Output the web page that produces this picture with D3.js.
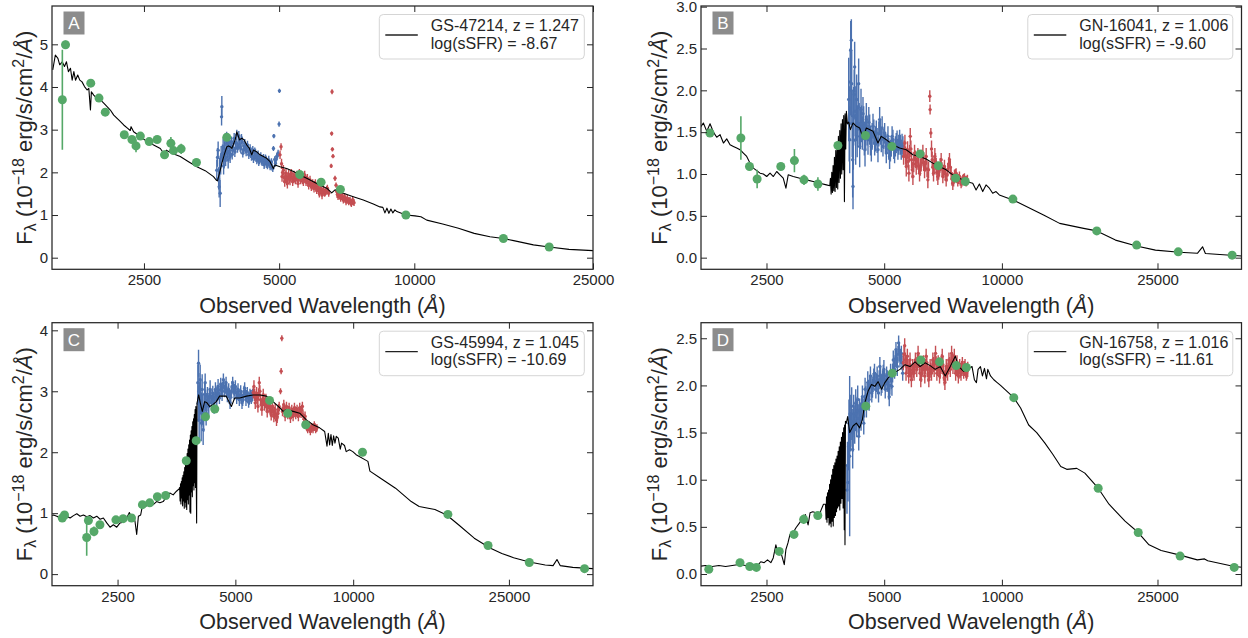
<!DOCTYPE html>
<html><head><meta charset="utf-8">
<script src="https://cdn.jsdelivr.net/npm/d3@7"></script>
<style>
body{margin:0;background:#fff}
svg{display:block}
text{font-family:"Liberation Sans",Arial,sans-serif;fill:#262626}
</style></head>
<body><svg id="chart" width="1248" height="638"></svg>
<script>
// ---------------- DATA ----------------
const xTickValues = [2500, 5000, 10000, 25000];
const yTicksA = [0, 1, 2, 3, 4, 5];
const yTicksB = [0.0, 0.5, 1.0, 1.5, 2.0, 2.5, 3.0];
const yTicksC = [0, 1, 2, 3, 4];
const yTicksD = [0.0, 0.5, 1.0, 1.5, 2.0, 2.5];
const panelLetters = ["A", "B", "C", "D"];
const galaxyNames = ["GS-47214, z = 1.247", "GN-16041, z = 1.006", "GS-45994, z = 1.045", "GN-16758, z = 1.016"];
const ssfrLabels = ["log(sSFR) = -8.67", "log(sSFR) = -9.60", "log(sSFR) = -10.69", "log(sSFR) = -11.61"];

// best-fit model spectra [wavelength, flux]
const modelA = [[1566,4.40],[1587,4.75],[1608,4.67],[1623,4.52],[1644,4.59],[1663,4.48],[1680,4.59],[1697,4.36],[1715,4.44],[1730,4.16],[1745,4.36],[1760,4.16],[1780,4.28],[1799,4.16],[1820,4.12],[1843,4.01],[1868,3.93],[1884,3.97],[1900,3.46],[1909,3.89],[1932,3.81],[1966,3.73],[2000,3.70],[2034,3.62],[2069,3.54],[2104,3.46],[2141,3.34],[2196,3.23],[2253,3.11],[2300,3.03],[2330,2.98],[2340,3.07],[2371,2.95],[2453,2.84],[2539,2.72],[2627,2.64],[2718,2.56],[2774,2.43],[2803,2.52],[2885,2.45],[3011,2.37],[3142,2.25],[3279,2.13],[3422,2.04],[3571,1.90],[3620,1.82],[3645,1.80],[3683,1.98],[3727,2.21],[3772,2.41],[3824,2.60],[3855,2.62],[3890,2.60],[3923,2.56],[3990,2.76],[4025,2.95],[4081,2.76],[4130,2.80],[4178,2.76],[4235,2.64],[4293,2.56],[4345,2.41],[4383,2.52],[4457,2.48],[4534,2.41],[4612,2.37],[4691,2.33],[4772,2.25],[4854,2.09],[4894,2.17],[5023,2.13],[5198,2.09],[5380,2.02],[5567,1.94],[5760,1.86],[5960,1.78],[6166,1.70],[6382,1.63],[6547,1.52],[6659,1.59],[6950,1.51],[7315,1.43],[7698,1.35],[8104,1.26],[8386,1.19],[8510,1.18],[8600,1.05],[8690,1.16],[8778,1.04],[8868,1.14],[8959,1.05],[9053,1.12],[9145,1.08],[9578,1.00],[10035,0.98],[10345,0.96],[10660,0.88],[11566,0.79],[12540,0.69],[13595,0.57],[14740,0.49],[15790,0.45],[16643,0.40],[18420,0.30],[19970,0.25],[22100,0.195],[25000,0.165]];
const modelB = [[1691,1.55],[1724,1.61],[1759,1.51],[1793,1.60],[1829,1.50],[1865,1.44],[1902,1.47],[1940,1.37],[1978,1.42],[2017,1.35],[2057,1.33],[2098,1.31],[2140,1.29],[2182,1.25],[2225,1.21],[2269,1.13],[2314,1.07],[2360,1.04],[2407,1.01],[2454,1.00],[2503,0.97],[2553,1.01],[2603,0.97],[2655,1.03],[2707,0.99],[2759,0.95],[2803,0.83],[2841,0.99],[2926,0.97],[3043,0.95],[3164,0.93],[3291,0.91],[3422,0.89],[3559,0.87],[3629,0.86],[3643,0.95],[3658,0.76],[3672,1.02],[3686,0.78],[3701,1.10],[3715,0.80],[3730,1.20],[3744,0.79],[3759,1.28],[3774,0.84],[3789,1.35],[3803,0.82],[3818,1.45],[3833,0.90],[3849,1.52],[3864,0.95],[3879,1.60],[3894,1.00],[3910,1.65],[3925,1.05],[3940,1.70],[3956,0.67],[3971,1.72],[3987,1.30],[4002,1.75],[4026,1.60],[4057,1.62],[4097,1.53],[4161,1.61],[4244,1.57],[4328,1.55],[4414,1.43],[4501,1.55],[4681,1.51],[4820,1.37],[4915,1.45],[5062,1.41],[5264,1.35],[5475,1.31],[5694,1.29],[5921,1.23],[6157,1.21],[6403,1.18],[6658,1.13],[6925,1.09],[7202,1.05],[7489,0.99],[7788,0.95],[8099,0.91],[8423,0.89],[8589,0.81],[8759,0.88],[8932,0.79],[9109,0.87],[9289,0.83],[9472,0.77],[9660,0.79],[9850,0.75],[10668,0.69],[12780,0.51],[14050,0.41],[16180,0.35],[17483,0.32],[19520,0.21],[22100,0.14],[24700,0.09],[28440,0.064],[31620,0.052],[32600,0.13],[33150,0.05],[41000,0.02]];
const modelC = [[1700,0.96],[1715,0.97],[1749,0.95],[1783,0.92],[1819,0.97],[1855,0.95],[1891,0.92],[1929,0.96],[1967,0.99],[2006,0.95],[2045,0.97],[2086,0.94],[2127,0.96],[2169,0.92],[2212,0.95],[2256,0.90],[2300,0.92],[2346,0.84],[2392,0.77],[2439,0.81],[2488,0.77],[2537,0.84],[2587,0.85],[2638,0.92],[2680,1.01],[2717,0.92],[2744,0.97],[2771,0.86],[2798,0.65],[2826,0.95],[2864,0.97],[2898,1.14],[2966,1.12],[3024,1.17],[3084,1.14],[3145,1.19],[3207,1.17],[3270,1.19],[3335,1.27],[3401,1.33],[3468,1.30],[3536,1.36],[3591,1.40],[3603,1.42],[3612,1.20],[3621,1.48],[3630,1.15],[3639,1.52],[3648,1.25],[3657,1.58],[3666,1.12],[3675,1.62],[3684,1.20],[3693,1.68],[3702,1.08],[3711,1.75],[3720,1.18],[3729,1.82],[3738,1.10],[3747,1.90],[3756,1.06],[3765,1.98],[3774,1.22],[3783,2.05],[3792,1.15],[3801,2.12],[3810,1.30],[3819,2.20],[3828,1.02],[3837,2.28],[3846,1.00],[3855,2.35],[3864,1.35],[3873,2.42],[3882,1.27],[3891,2.50],[3900,1.45],[3909,2.55],[3918,1.38],[3927,2.62],[3936,1.50],[3945,2.70],[3954,1.42],[3963,2.75],[3972,1.60],[3981,0.84],[3990,2.80],[4005,2.86],[4029,2.94],[4068,2.81],[4116,2.67],[4173,2.83],[4230,2.81],[4297,2.75],[4382,2.78],[4469,2.83],[4557,2.92],[4739,2.92],[4884,2.75],[4981,2.89],[5133,2.89],[5338,2.92],[5551,2.94],[5773,2.94],[6003,2.92],[6243,2.83],[6492,2.73],[6620,2.67],[6751,2.70],[7021,2.67],[7301,2.64],[7593,2.53],[7896,2.45],[8211,2.40],[8456,2.34],[8572,2.10],[8639,2.31],[8707,2.12],[8775,2.29],[8844,2.11],[8913,2.27],[8983,2.15],[9053,2.26],[9160,2.23],[9268,2.05],[9340,2.15],[9503,2.11],[9597,2.01],[9785,2.04],[9978,2.01],[10175,1.96],[10905,1.85],[11035,1.69],[11695,1.58],[12828,1.41],[14073,1.19],[14742,1.11],[16178,1.06],[17338,0.97],[18585,0.81],[20388,0.59],[22368,0.43],[23978,0.34],[25700,0.27],[28190,0.20],[30950,0.15],[32420,0.14],[33170,0.24],[33800,0.14],[36400,0.11],[40870,0.09],[41200,0.09]];
const modelD = [[1678,0.08],[1745,0.09],[1816,0.08],[1889,0.09],[1965,0.08],[2044,0.09],[2126,0.10],[2212,0.09],[2301,0.10],[2370,0.09],[2417,0.13],[2466,0.12],[2515,0.15],[2565,0.12],[2601,0.17],[2642,0.31],[2674,0.22],[2705,0.26],[2738,0.19],[2776,0.10],[2803,0.26],[2837,0.33],[2871,0.42],[2916,0.43],[2974,0.49],[3034,0.54],[3094,0.59],[3144,0.63],[3194,0.52],[3232,0.65],[3283,0.66],[3349,0.65],[3402,0.61],[3449,0.68],[3497,0.74],[3539,0.74],[3550,0.58],[3560,0.82],[3570,0.55],[3581,0.86],[3592,0.60],[3603,0.89],[3614,0.52],[3625,0.95],[3636,0.54],[3647,1.00],[3658,0.50],[3670,1.05],[3681,0.56],[3693,1.11],[3704,0.51],[3716,1.15],[3728,0.60],[3740,1.18],[3752,0.62],[3764,1.22],[3776,0.66],[3788,1.25],[3800,0.70],[3812,1.30],[3825,0.72],[3837,1.35],[3850,0.68],[3862,1.40],[3875,0.75],[3888,1.45],[3900,0.80],[3913,1.50],[3926,0.70],[3939,1.55],[3952,0.47],[3960,1.58],[3969,0.31],[3980,1.62],[4000,1.60],[4032,1.67],[4080,1.50],[4161,1.57],[4244,1.60],[4329,1.55],[4398,1.64],[4459,1.81],[4548,1.94],[4639,2.01],[4731,1.99],[4826,2.04],[4922,1.96],[5020,2.03],[5120,2.08],[5274,2.13],[5487,2.17],[5651,2.22],[5821,2.20],[5996,2.25],[6177,2.20],[6362,2.24],[6553,2.21],[6751,2.17],[6954,2.20],[7163,2.10],[7378,2.20],[7600,2.31],[7751,2.20],[7984,2.15],[8224,2.18],[8388,2.20],[8505,2.06],[8606,2.03],[8692,2.17],[8813,2.20],[8918,2.10],[9024,2.18],[9132,2.07],[9204,2.17],[9351,2.10],[9537,2.06],[9728,2.03],[9921,2.00],[10160,1.96],[10725,1.87],[11165,1.76],[11707,1.58],[12276,1.50],[12870,1.39],[13492,1.27],[14142,1.14],[14652,1.11],[15542,1.12],[16300,1.07],[17630,0.91],[18790,0.74],[20650,0.56],[22320,0.44],[23780,0.31],[25540,0.25],[28560,0.20],[31600,0.15],[32980,0.16],[33600,0.14],[39280,0.08],[41500,0.07]];

// blue grism spectra [wavelength, flux, error]
const blueA = [[3632,2.05,.25],[3645,2.35,.22],[3657,2.52,.2],[3667,1.85,.25],[3676,1.66,.25],[3686,2.10,.25],[3695,1.51,.32],[3705,2.20,.25],[3714,2.37,.25],[3722,3.30,.2],[3727,3.54,.25],[3740,2.45,.2],[3752,2.60,.2],[3761,2.15,.2],[3771,2.29,.2],[3781,2.55,.18],[3791,2.76,.15],[3800,2.35,.2],[3810,2.45,.2],[3820,2.80,.15],[3830,2.68,.15],[3840,2.50,.18],[3850,2.29,.2],[3860,2.70,.15],[3869,2.60,.15],[3879,2.45,.15],[3889,2.37,.15],[3902,2.62,.13],[3916,2.72,.12],[3930,2.42,.12],[3943,2.52,.12],[3956,2.68,.12],[3970,2.80,.12],[3984,2.48,.12],[3997,2.56,.12],[4011,2.70,.12],[4024,2.88,.12],[4038,2.58,.12],[4052,2.64,.12],[4066,2.85,.12],[4080,2.76,.12],[4094,2.60,.12],[4108,2.56,.12],[4122,2.78,.12],[4136,2.72,.12],[4150,2.45,.1],[4164,2.52,.1],[4178,2.62,.1],[4193,2.68,.1],[4207,2.55,.1],[4222,2.48,.1],[4236,2.58,.1],[4251,2.64,.1],[4265,2.50,.1],[4280,2.41,.1],[4294,2.48,.1],[4309,2.56,.1],[4324,2.44,.1],[4339,2.37,.1],[4353,2.46,.1],[4368,2.52,.1],[4383,2.32,.1],[4398,2.37,.1],[4413,2.48,.1],[4428,2.45,.1],[4443,2.34,.1],[4459,2.29,.1],[4474,2.38,.1],[4489,2.41,.1],[4504,2.25,.1],[4520,2.29,.1],[4535,2.33,.1],[4551,2.37,.1],[4566,2.28,.1],[4582,2.25,.1],[4598,2.30,.1],[4614,2.33,.1],[4629,2.18,.1],[4645,2.21,.1],[4661,2.32,.1],[4677,2.29,.1],[4693,2.20,.1],[4709,2.17,.1],[4725,2.24,.1],[4741,2.29,.1],[4757,2.18,.08],[4774,2.13,.08],[4790,2.20,.08],[4807,2.25,.08],[4823,2.12,.08],[4840,2.09,.08],[4856,2.56,.06],[4866,2.85,.05],[4888,2.30,.08],[4906,2.21,.08],[4923,2.30,.08],[4940,2.37,.08],[4957,2.40,.08],[4974,2.45,.08],[4998,3.13,.06],[5007,3.91,.05]];
const blueB = [[4057,1.89,.5],[4069,1.60,.45],[4081,1.41,.4],[4093,2.10,.4],[4105,2.48,.35],[4113,2.00,.4],[4121,2.60,.25],[4129,2.08,.4],[4141,1.60,.4],[4153,1.17,.45],[4161,0.85,.27],[4169,1.40,.35],[4177,1.69,.35],[4190,1.95,.3],[4202,2.28,.3],[4215,1.75,.3],[4227,1.41,.3],[4240,1.70,.3],[4252,1.89,.3],[4265,1.45,.25],[4277,1.57,.25],[4290,1.80,.28],[4302,2.08,.3],[4315,1.60,.25],[4328,1.33,.25],[4345,1.55,.25],[4362,1.77,.25],[4379,1.60,.22],[4396,1.49,.2],[4413,1.72,.2],[4431,1.61,.2],[4448,1.42,.2],[4466,1.29,.2],[4483,1.50,.2],[4501,1.65,.2],[4523,1.52,.18],[4545,1.41,.18],[4567,1.62,.18],[4590,1.53,.18],[4612,1.40,.18],[4635,1.33,.18],[4658,1.45,.16],[4681,1.57,.15],[4704,1.50,.15],[4727,1.37,.15],[4750,1.42,.15],[4773,1.49,.15],[4796,1.40,.15],[4820,1.29,.15],[4844,1.48,.15],[4868,1.65,.15],[4891,1.50,.15],[4915,1.41,.15],[4940,1.55,.14],[4964,1.33,.12],[4988,1.42,.12],[5013,1.49,.12],[5037,1.38,.12],[5062,1.25,.12],[5087,1.36,.12],[5112,1.45,.12],[5137,1.30,.13],[5162,1.21,.15],[5187,1.28,.13],[5213,1.33,.12],[5238,1.45,.12],[5264,1.41,.12],[5290,1.30,.12],[5316,1.25,.12],[5342,1.33,.12],[5368,1.37,.12],[5394,1.40,.12],[5421,1.29,.12],[5448,1.35,.12],[5475,1.41,.12],[5501,1.35,.12],[5528,1.29,.12],[5555,1.36,.12],[5583,1.33,.12]];
const blueC = [[4010,3.14,.3],[4018,2.80,.3],[4026,3.46,.22],[4034,3.00,.3],[4041,2.53,.35],[4053,2.85,.3],[4065,3.19,.25],[4077,2.90,.28],[4089,2.48,.3],[4101,2.70,.28],[4113,3.03,.25],[4125,2.70,.25],[4137,2.37,.25],[4149,2.55,.22],[4161,2.75,.2],[4173,2.95,.18],[4186,3.14,.15],[4198,2.85,.18],[4210,2.64,.2],[4226,2.80,.17],[4243,2.92,.15],[4259,2.82,.15],[4276,2.75,.15],[4293,2.90,.15],[4310,3.03,.15],[4327,2.92,.13],[4344,2.81,.12],[4361,2.90,.12],[4378,2.97,.12],[4395,2.85,.12],[4412,2.75,.12],[4430,2.90,.12],[4447,3.03,.12],[4464,2.95,.12],[4482,2.86,.12],[4500,2.98,.12],[4517,3.08,.12],[4535,2.96,.1],[4552,2.89,.1],[4570,3.02,.1],[4588,3.12,.1],[4606,3.02,.1],[4624,2.94,.1],[4642,3.06,.1],[4660,3.19,.1],[4678,3.08,.1],[4697,3.00,.1],[4715,3.06,.1],[4734,3.14,.1],[4752,3.02,.1],[4771,2.92,.1],[4790,2.98,.1],[4808,3.03,.1],[4827,2.92,.1],[4846,2.81,.1],[4865,2.90,.1],[4884,3.00,.1],[4903,3.07,.1],[4922,3.14,.1],[4941,3.05,.1],[4961,2.97,.1],[4980,3.02,.1],[5000,3.08,.1],[5020,2.98,.1],[5039,2.89,.1],[5059,2.96,.1],[5079,3.03,.1],[5098,2.94,.1],[5118,2.86,.1],[5138,2.93,.1],[5159,3.00,.1],[5179,2.90,.1],[5199,2.81,.1],[5220,2.86,.1],[5240,2.92,.1],[5260,2.99,.1],[5281,3.05,.1],[5302,2.95,.1],[5322,2.86,.1],[5343,2.92,.1],[5364,2.97,.1],[5385,2.90,.1],[5406,2.83,.1],[5428,2.88,.1],[5449,2.94,.1],[5470,2.92,.1],[5491,2.89,.1],[5512,2.92,.1],[5534,2.94,.1]];
const blueD = [[4016,0.89,.25],[4028,1.15,.25],[4040,0.97,.2],[4052,1.35,.25],[4064,1.60,.25],[4072,1.40,.3],[4080,1.25,.85],[4092,1.70,.2],[4104,1.50,.2],[4116,1.62,.2],[4129,1.78,.2],[4141,1.55,.2],[4153,1.32,.2],[4165,1.50,.2],[4178,1.70,.2],[4190,1.62,.17],[4203,1.53,.15],[4215,1.68,.15],[4228,1.81,.15],[4240,1.70,.15],[4253,1.60,.15],[4265,1.73,.15],[4278,1.85,.15],[4291,1.65,.15],[4304,1.46,.15],[4316,1.60,.13],[4329,1.74,.12],[4346,1.70,.12],[4363,1.64,.12],[4380,1.76,.12],[4398,1.88,.12],[4415,1.74,.12],[4433,1.60,.12],[4450,1.78,.12],[4468,1.96,.12],[4485,1.87,.12],[4503,1.78,.12],[4521,1.90,.12],[4539,2.03,.12],[4557,1.94,.12],[4575,1.85,.12],[4593,1.98,.11],[4611,2.10,.1],[4629,2.01,.1],[4648,1.92,.1],[4666,1.97,.1],[4685,2.03,.1],[4703,2.08,.1],[4722,2.13,.1],[4741,2.04,.1],[4760,1.96,.1],[4778,2.03,.1],[4797,2.10,.1],[4816,2.01,.1],[4836,1.92,.1],[4855,2.06,.1],[4874,2.20,.1],[4893,2.10,.1],[4913,1.99,.1],[4932,2.02,.1],[4952,2.06,.1],[4971,2.12,.1],[4991,2.17,.1],[5011,2.06,.1],[5031,1.96,.1],[5051,2.03,.1],[5071,2.10,.1],[5091,2.06,.1],[5111,2.03,.1],[5131,1.95,.1],[5151,1.88,.1],[5171,2.00,.1],[5192,2.13,.1],[5212,2.06,.1],[5233,1.99,.1],[5254,2.13,.1],[5275,2.27,.1],[5295,2.22,.1],[5316,2.17,.1],[5337,2.28,.09],[5359,2.38,.08],[5380,2.29,.09],[5401,2.20,.1],[5422,2.33,.09],[5444,2.45,.08],[5465,2.36,.08],[5487,2.27,.08],[5509,2.31,.08],[5531,2.34,.08],[5553,2.24,.08],[5575,2.13,.08]];

// red grism spectra [wavelength, flux, error]
const redA = [[5023,2.41,.1],[5049,2.60,.08],[5062,2.20,.12],[5075,1.90,.12],[5092,2.00,.12],[5110,2.05,.12],[5127,1.88,.12],[5145,1.78,.12],[5162,1.90,.12],[5180,1.98,.12],[5198,1.82,.12],[5216,1.74,.12],[5233,1.88,.12],[5251,1.94,.12],[5269,1.86,.12],[5287,1.82,.12],[5305,1.92,.11],[5324,1.98,.1],[5342,1.86,.1],[5360,1.78,.1],[5378,1.88,.1],[5397,1.94,.1],[5415,1.86,.1],[5434,1.82,.1],[5452,1.90,.1],[5471,1.94,.1],[5490,1.82,.1],[5509,1.74,.1],[5528,1.88,.1],[5547,1.98,.1],[5566,1.88,.1],[5585,1.82,.1],[5604,1.86,.1],[5623,1.90,.1],[5642,1.82,.1],[5662,1.78,.1],[5681,1.88,.1],[5700,1.94,.1],[5720,1.84,.1],[5739,1.78,.1],[5759,1.82,.1],[5779,1.86,.1],[5798,1.76,.1],[5818,1.70,.1],[5838,1.76,.1],[5858,1.82,.1],[5878,1.72,.1],[5898,1.66,.1],[5918,1.70,.1],[5939,1.74,.1],[5960,1.68,.1],[5980,1.63,.1],[6000,1.70,.1],[6021,1.74,.1],[6041,1.64,.1],[6062,1.59,.1],[6083,1.64,.1],[6104,1.66,.1],[6124,1.56,.1],[6145,1.51,.1],[6166,1.58,.1],[6188,1.63,.1],[6209,1.54,.1],[6230,1.47,.1],[6251,1.54,.1],[6273,1.59,.1],[6294,1.54,.09],[6316,1.51,.08],[6337,1.53,.08],[6359,1.55,.08],[6381,1.60,.08],[6403,1.63,.08],[6425,1.56,.08],[6447,1.51,.08],[6530,2.15,.05],[6545,2.91,.05],[6558,3.89,.06],[6570,2.54,.05],[6590,2.38,.05],[6659,1.86,.06],[6694,1.70,.06],[6717,1.55,.08],[6740,1.48,.08],[6763,1.43,.08],[6786,1.47,.08],[6809,1.51,.08],[6832,1.45,.08],[6856,1.39,.08],[6879,1.43,.08],[6903,1.47,.08],[6926,1.40,.08],[6950,1.35,.08],[6974,1.39,.08],[6998,1.43,.08],[7022,1.36,.08],[7046,1.31,.08],[7070,1.35,.08],[7094,1.39,.08],[7118,1.34,.08],[7143,1.31,.08],[7167,1.33,.08],[7192,1.35,.08],[7216,1.30,.08],[7241,1.27,.08],[7266,1.31,.08],[7291,1.35,.08],[7316,1.31,.08],[7341,1.29,.08]];
const redB = [[5605,1.21,.1],[5627,1.30,.1],[5649,1.37,.1],[5671,1.22,.11],[5694,1.09,.12],[5716,1.20,.11],[5738,1.29,.1],[5760,1.15,.1],[5783,1.01,.1],[5806,1.25,.1],[5829,1.45,.1],[5852,1.30,.1],[5875,1.17,.1],[5898,1.05,.1],[5921,0.97,.1],[5950,1.12,.1],[5979,1.25,.1],[6008,1.18,.1],[6038,1.09,.1],[6067,1.15,.1],[6097,1.21,.1],[6127,1.10,.1],[6157,1.01,.1],[6187,1.08,.1],[6218,1.13,.1],[6248,1.19,.1],[6279,1.25,.1],[6310,1.14,.1],[6341,1.05,.1],[6372,1.13,.1],[6403,1.21,.1],[6434,1.06,.1],[6466,0.93,.1],[6492,1.05,.1],[6540,1.93,.07],[6552,1.77,.06],[6581,1.49,.06],[6607,1.30,.1],[6633,1.17,.1],[6659,1.08,.1],[6685,1.01,.1],[6711,1.12,.1],[6738,1.21,.1],[6764,1.15,.1],[6791,1.09,.1],[6824,1.02,.1],[6858,0.97,.1],[6891,1.02,.09],[6925,1.05,.08],[6959,1.11,.08],[6993,1.17,.08],[7027,1.06,.08],[7062,0.97,.08],[7096,1.03,.08],[7131,1.09,.08],[7166,1.00,.08],[7202,0.93,.08],[7237,0.99,.08],[7272,1.05,.08],[7308,1.12,.08],[7344,1.17,.08],[7380,1.08,.08],[7416,1.01,.08],[7452,0.94,.08],[7489,0.89,.08],[7526,0.93,.08],[7563,0.97,.08],[7600,0.99,.07],[7637,1.01,.06],[7674,0.95,.06],[7712,0.91,.06],[7750,0.94,.06],[7788,0.97,.06],[7826,0.92,.06],[7865,0.89,.06],[7903,0.91,.06],[7942,0.93,.06],[7981,0.94,.06],[8020,0.95,.06],[8059,0.92,.06],[8099,0.91,.06],[8131,0.92,.06],[8163,0.93,.06]];
const redC = [[5556,2.98,.1],[5578,3.08,.1],[5600,2.94,.1],[5621,2.81,.1],[5643,2.90,.1],[5665,2.97,.1],[5688,2.86,.1],[5710,2.75,.1],[5732,2.95,.1],[5755,3.14,.1],[5777,3.00,.1],[5800,2.86,.1],[5822,2.78,.1],[5845,2.70,.1],[5868,2.82,.1],[5891,2.94,.1],[5914,2.86,.1],[5937,2.78,.1],[5960,2.82,.1],[5984,2.86,.1],[6007,2.76,.1],[6031,2.67,.1],[6054,2.74,.1],[6078,2.81,.1],[6102,2.77,.1],[6126,2.73,.1],[6150,2.68,.1],[6174,2.62,.1],[6198,2.68,.1],[6222,2.75,.1],[6246,2.67,.1],[6271,2.59,.1],[6295,2.64,.1],[6320,2.70,.1],[6345,2.61,.1],[6370,2.53,.1],[6395,2.58,.1],[6420,2.64,.1],[6445,2.70,.09],[6470,2.75,.08],[6521,3.00,.05],[6546,3.33,.05],[6572,3.87,.05],[6598,2.67,.08],[6623,2.72,.08],[6649,2.78,.08],[6675,2.68,.08],[6701,2.59,.08],[6727,2.67,.08],[6754,2.75,.08],[6780,2.68,.08],[6807,2.62,.08],[6833,2.68,.08],[6860,2.73,.08],[6887,2.64,.08],[6914,2.56,.08],[6941,2.63,.08],[6968,2.70,.08],[6995,2.64,.08],[7023,2.59,.08],[7050,2.66,.08],[7078,2.73,.08],[7105,2.67,.08],[7133,2.62,.08],[7161,2.66,.08],[7189,2.70,.08],[7217,2.64,.08],[7245,2.59,.08],[7273,2.66,.08],[7302,2.73,.08],[7330,2.68,.08],[7359,2.64,.08],[7388,2.70,.08],[7417,2.75,.08],[7446,2.61,.08],[7475,2.48,.08],[7504,2.54,.08],[7534,2.59,.08],[7563,2.50,.07],[7593,2.42,.06],[7622,2.40,.06],[7652,2.37,.06],[7682,2.41,.06],[7712,2.45,.06],[7742,2.39,.06],[7773,2.34,.06],[7803,2.38,.06],[7834,2.42,.06],[7864,2.40,.06],[7895,2.37,.06],[7926,2.41,.06],[7957,2.45,.06],[7988,2.41,.06],[8020,2.37,.06],[8051,2.39,.06],[8083,2.40,.06]];
const redD = [[5597,2.24,.08],[5619,2.33,.08],[5641,2.42,.08],[5663,2.27,.08],[5686,2.13,.08],[5708,2.22,.08],[5731,2.31,.08],[5753,2.20,.08],[5776,2.10,.08],[5799,2.18,.08],[5822,2.27,.08],[5845,2.16,.08],[5868,2.06,.08],[5891,2.13,.08],[5915,2.20,.08],[5938,2.16,.08],[5962,2.13,.08],[5985,2.20,.08],[6009,2.27,.08],[6033,2.22,.08],[6057,2.17,.08],[6081,2.26,.08],[6105,2.34,.08],[6129,2.27,.08],[6153,2.20,.08],[6177,2.13,.08],[6202,2.06,.08],[6226,2.12,.08],[6251,2.17,.08],[6276,2.20,.08],[6301,2.24,.08],[6326,2.17,.08],[6351,2.10,.08],[6376,2.20,.08],[6401,2.31,.08],[6426,2.24,.08],[6452,2.17,.08],[6477,2.12,.08],[6503,2.06,.08],[6528,2.13,.08],[6554,2.20,.08],[6580,2.16,.08],[6606,2.13,.08],[6632,2.20,.08],[6659,2.27,.08],[6685,2.22,.08],[6711,2.17,.08],[6738,2.25,.08],[6765,2.34,.08],[6791,2.23,.08],[6818,2.13,.08],[6845,2.18,.08],[6872,2.24,.08],[6899,2.17,.08],[6927,2.10,.08],[6954,2.15,.08],[6982,2.20,.08],[7009,2.25,.08],[7037,2.31,.08],[7065,2.22,.08],[7093,2.13,.08],[7121,2.08,.08],[7149,2.03,.08],[7177,2.11,.08],[7206,2.20,.08],[7234,2.16,.08],[7263,2.13,.08],[7292,2.20,.08],[7321,2.27,.08],[7350,2.22,.08],[7379,2.17,.08],[7408,2.25,.08],[7437,2.34,.08],[7466,2.27,.08],[7496,2.20,.08],[7526,2.25,.08],[7556,2.31,.08],[7586,2.22,.08],[7616,2.13,.08],[7646,2.18,.08],[7676,2.24,.08],[7706,2.17,.08],[7737,2.10,.08],[7767,2.15,.08],[7798,2.20,.08],[7829,2.16,.08],[7860,2.13,.08],[7891,2.18,.08],[7923,2.22,.08],[7954,2.18,.08],[7985,2.15,.08],[8017,2.18,.08],[8049,2.20,.08],[8081,2.16,.08],[8113,2.13,.08],[8145,2.15,.08],[8177,2.17,.08]];

// photometry [wavelength, flux, error]
const photA = [[1645,3.70,1.17],[1672,4.99,0.1],[1903,4.09,0.05],[1985,3.74,0.05],[2050,3.41,0.05],[2260,2.88,0.05],[2350,2.77,0.05],[2400,2.62,0.15],[2454,2.85,0.05],[2568,2.72,0.05],[2675,2.77,0.05],[2778,2.41,0.1],[2870,2.68,0.15],[2909,2.51,0.05],[3025,2.55,0.12],[3272,2.23,0.05],[3823,2.82,0.05],[5556,1.95,0.04],[6200,1.77,0.04],[6845,1.60,0.04],[9578,1.00,0.03],[15790,0.45,0.03],[19970,0.25,0.02]];
const photB = [[1792,1.49,.03],[2150,1.43,.26],[2262,1.09,.05],[2366,0.94,.11],[2720,1.09,.04],[2947,1.16,.14],[3118,0.93,.06],[3384,0.88,.08],[3807,1.34,.03],[4478,1.46,.03],[5230,1.33,.03],[6177,1.24,.03],[6878,1.10,.03],[7615,0.95,.03],[8061,0.91,.03],[10668,0.70,.02],[17483,0.32,.02],[22112,0.15,.02],[28250,0.07,.02],[38800,0.03,.02]];
const photC = [[1806,0.92,.04],[1830,0.97,.04],[2085,0.60,.3],[2106,0.88,.06],[2176,0.70,.08],[2254,0.81,.05],[2476,0.89,.04],[2584,0.91,.04],[2714,0.92,.04],[2894,1.14,.04],[3021,1.17,.04],[3160,1.27,.04],[3318,1.29,.04],[3745,1.86,.04],[3971,2.19,.04],[4194,2.58,.04],[4430,2.71,.04],[6114,2.85,.03],[6807,2.64,.03],[7564,2.45,.03],[10563,2.00,.05],[17458,0.98,.03],[22110,0.47,.03],[28190,0.19,.03],[39010,0.09,.02]];
const photD = [[1780,0.05,.02],[2139,0.12,.02],[2265,0.08,.02],[2356,0.07,.02],[2695,0.24,.03],[2939,0.42,.03],[3112,0.58,.05],[3382,0.62,.03],[4486,1.78,.03],[5243,2.13,.03],[6201,2.27,.03],[6926,2.25,.03],[7644,2.21,.03],[8112,2.19,.03],[10725,1.87,.03],[17630,0.91,.03],[22320,0.44,.03],[28560,0.19,.02],[39280,0.07,.02]];

// ---------------- LAYOUT / STYLE ----------------
const COL_BLUE = "#4C72B0", COL_RED = "#C44E52", COL_GREEN = "#55A868", INK = "#262626";
const panels = [
  {i:0, left:52, right:593, top:6, bottom:269.3, xDomain:[1560,25000], yDomain:[-0.272,5.898], yTicks:yTicksA, fmt:d3.format("d"), ylabGap:20, model:modelA, blue:blueA, red:redA, phot:photA},
  {i:1, left:701, right:1241.5, top:6, bottom:269.3, xDomain:[1700,41000], yDomain:[-0.139,3.008], yTicks:yTicksB, fmt:d3.format(".1f"), ylabGap:34, model:modelB, blue:blueB, red:redB, phot:photB},
  {i:2, left:52, right:593, top:322.7, bottom:585.7, xDomain:[1700,41000], yDomain:[-0.19,4.125], yTicks:yTicksC, fmt:d3.format("d"), ylabGap:20, model:modelC, blue:blueC, red:redC, phot:photC},
  {i:3, left:701, right:1241.5, top:322.7, bottom:585.7, xDomain:[1700,41000], yDomain:[-0.124,2.665], yTicks:yTicksD, fmt:d3.format(".1f"), ylabGap:34, model:modelD, blue:blueD, red:redD, phot:photD}
];

const svg = d3.select("#chart");
svg.append("rect").attr("width",1248).attr("height",638).attr("fill","#fff");

function styleAxis(g){
  g.select(".domain").remove();
  g.selectAll(".tick line").attr("stroke",INK).attr("stroke-width",1);
  g.selectAll(".tick text").attr("fill",INK).style("font-size","15px").style("font-family",'"Liberation Sans",Arial,sans-serif');
}

panels.forEach(p => {
  const x = d3.scaleLog().domain(p.xDomain).range([p.left, p.right]);
  const y = d3.scaleLinear().domain(p.yDomain).range([p.bottom, p.top]);
  const g = svg.append("g");
  const clipId = "clip" + p.i;
  svg.append("clipPath").attr("id", clipId).append("rect")
    .attr("x", p.left).attr("y", p.top).attr("width", p.right - p.left).attr("height", p.bottom - p.top);
  const plot = g.append("g").attr("clip-path", `url(#${clipId})`);

  // grism spectra: error bars + points
  [[p.blue, COL_BLUE], [p.red, COL_RED]].forEach(([arr, col]) => {
    const sg = plot.append("g");
    sg.selectAll("line").data(arr).join("line")
      .attr("x1", d => x(d[0])).attr("x2", d => x(d[0]))
      .attr("y1", d => y(d[1] - d[2])).attr("y2", d => y(d[1] + d[2]))
      .attr("stroke", col).attr("stroke-width", 1.4);
    sg.selectAll("circle").data(arr).join("circle")
      .attr("cx", d => x(d[0])).attr("cy", d => y(d[1])).attr("r", 1.7).attr("fill", col);
  });

  // model
  plot.append("path").datum(p.model)
    .attr("d", d3.line().x(d => x(d[0])).y(d => y(d[1])))
    .attr("fill", "none").attr("stroke", "#000").attr("stroke-width", 1.1).attr("stroke-linejoin","round");

  // photometry
  const pg = plot.append("g");
  pg.selectAll("line").data(p.phot).join("line")
    .attr("x1", d => x(d[0])).attr("x2", d => x(d[0]))
    .attr("y1", d => y(d[1] - d[2])).attr("y2", d => y(d[1] + d[2]))
    .attr("stroke", COL_GREEN).attr("stroke-width", 1.6);
  pg.selectAll("circle").data(p.phot).join("circle")
    .attr("cx", d => x(d[0])).attr("cy", d => y(d[1])).attr("r", 4.5).attr("fill", COL_GREEN);

  // axes (inward ticks on all four sides)
  g.append("g").attr("transform", `translate(0,${p.bottom})`)
    .call(d3.axisBottom(x).tickValues(xTickValues).tickFormat(d3.format("d")).tickSizeInner(-6).tickSizeOuter(0).tickPadding(5.5))
    .call(styleAxis);
  g.append("g").attr("transform", `translate(0,${p.top})`)
    .call(d3.axisTop(x).tickValues(xTickValues).tickFormat("").tickSizeInner(-6).tickSizeOuter(0))
    .call(styleAxis);
  g.append("g").attr("transform", `translate(${p.left},0)`)
    .call(d3.axisLeft(y).tickValues(p.yTicks).tickFormat(p.fmt).tickSizeInner(-6).tickSizeOuter(0).tickPadding(4))
    .call(styleAxis);
  g.append("g").attr("transform", `translate(${p.right},0)`)
    .call(d3.axisRight(y).tickValues(p.yTicks).tickFormat("").tickSizeInner(-6).tickSizeOuter(0))
    .call(styleAxis);

  // frame
  g.append("rect").attr("x", p.left).attr("y", p.top).attr("width", p.right - p.left).attr("height", p.bottom - p.top)
    .attr("fill", "none").attr("stroke", INK).attr("stroke-width", 1.25);

  // x label
  const xl = g.append("text").attr("x", (p.left + p.right) / 2).attr("y", p.bottom + 43.5)
    .attr("text-anchor", "middle").style("font-size", "21.5px");
  xl.append("tspan").text("Observed Wavelength (");
  xl.append("tspan").style("font-style", "italic").text("Å");
  xl.append("tspan").text(")");

  // y label
  const yl = g.append("text")
    .attr("transform", `translate(${p.left - p.ylabGap},${(p.top + p.bottom) / 2}) rotate(-90)`)
    .attr("text-anchor", "middle").style("font-size", "22px");
  yl.append("tspan").text("F");
  yl.append("tspan").attr("dy", 4).style("font-size", "16px").text("λ");
  yl.append("tspan").attr("dy", -4).text(" (10");
  yl.append("tspan").attr("dy", -8).style("font-size", "16px").text("−18");
  yl.append("tspan").attr("dy", 8).text(" erg/s/cm");
  yl.append("tspan").attr("dy", -8).style("font-size", "16px").text("2");
  yl.append("tspan").attr("dy", 8).text("/");
  yl.append("tspan").style("font-style", "italic").text("Å");
  yl.append("tspan").text(")");

  // panel letter box
  const bx = p.left + 11.5, by = p.top + 5.5;
  g.append("rect").attr("x", bx).attr("y", by).attr("width", 21).attr("height", 23).attr("fill", "#8c8c8c");
  g.append("text").attr("x", bx + 10.5).attr("y", by + 17.5).attr("text-anchor", "middle")
    .style("font-size", "17px").style("fill", "#fff").text(panelLetters[p.i]);

  // legend
  const lw = 205, lh = 44.5, lx = p.right - 8.7 - lw, ly = p.top + 8.5;
  g.append("rect").attr("x", lx).attr("y", ly).attr("width", lw).attr("height", lh).attr("rx", 4)
    .attr("fill", "#fff").attr("fill-opacity", 0.8).attr("stroke", "#d5d5d5").attr("stroke-width", 1);
  g.append("line").attr("x1", lx + 6).attr("x2", lx + 38.5).attr("y1", ly + 20.5).attr("y2", ly + 20.5)
    .attr("stroke", "#222").attr("stroke-width", 1.3);
  g.append("text").attr("x", lx + 51.5).attr("y", ly + 16.5).style("font-size", "16px").text(galaxyNames[p.i]);
  g.append("text").attr("x", lx + 51.5).attr("y", ly + 34).style("font-size", "16px").text(ssfrLabels[p.i]);
});
</script>
</body></html>
